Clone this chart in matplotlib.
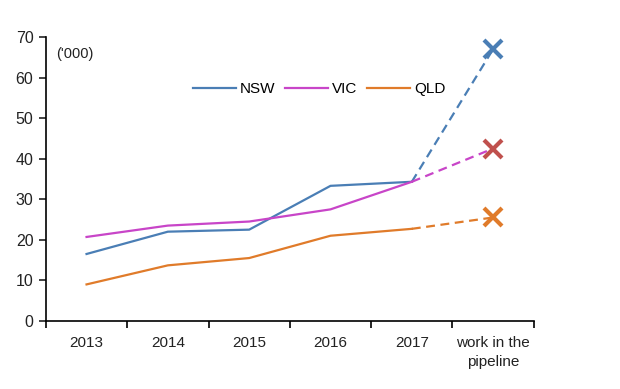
import matplotlib.pyplot as plt

plt.rcParams['font.family'] = ['Liberation Sans', 'DejaVu Sans']

categories = ['2013', '2014', '2015', '2016', '2017', 'work in the\npipeline']
nsw = [16.5, 22.0, 22.5, 33.3, 34.3, 67.0]
vic = [20.7, 23.5, 24.5, 27.5, 34.3, 42.5]
qld = [9.0, 13.7, 15.5, 21.0, 22.7, 25.5]

series = [
    ('NSW', nsw, '#4a7eb5', '#4a7eb5'),
    ('VIC', vic, '#c845c8', '#c0504d'),
    ('QLD', qld, '#e07b2a', '#e07b2a'),
]

fig = plt.figure(figsize=(6.2, 3.89), dpi=100)
ax = fig.add_axes([0.074, 0.175, 0.787, 0.73])

x = list(range(len(categories)))
for name, vals, col, mcol in series:
    ax.plot(x[:5], vals[:5], color=col, linewidth=1.6, label=name)
    ax.plot(x[4:], vals[4:], color=col, linewidth=1.6, linestyle=(0, (4, 2.5)))
    ax.plot(x[5], vals[5], marker='x', markersize=13, markeredgewidth=3,
            color=mcol, linestyle='none')

ax.set_xlim(-0.5, 5.5)
ax.set_ylim(0, 70)
ax.set_yticks(range(0, 71, 10))
ax.set_xticks(x)
ax.set_xticklabels(categories, linespacing=1.45)
ax.set_xticks([i - 0.5 for i in range(7)], minor=True)
ax.tick_params(axis='x', which='major', length=0, pad=11, labelsize=11, colors='#222222')
ax.tick_params(axis='x', which='minor', length=5, width=1.2, direction='out')
ax.tick_params(axis='y', length=5, width=1.2, direction='out', labelsize=11.5,
               colors='#222222', pad=4)
for s in ['top', 'right']:
    ax.spines[s].set_visible(False)
for s in ['left', 'bottom']:
    ax.spines[s].set_linewidth(1.2)

ax.text(0.022, 0.965, "('000)", transform=ax.transAxes, fontsize=10.5,
        color='#222222', va='top')

ax.legend(loc='center', bbox_to_anchor=(0.56, 0.815), ncol=3, frameon=False,
          fontsize=11, handlelength=2.8, handletextpad=0.3, columnspacing=0.6)

fig.savefig('out.png')
